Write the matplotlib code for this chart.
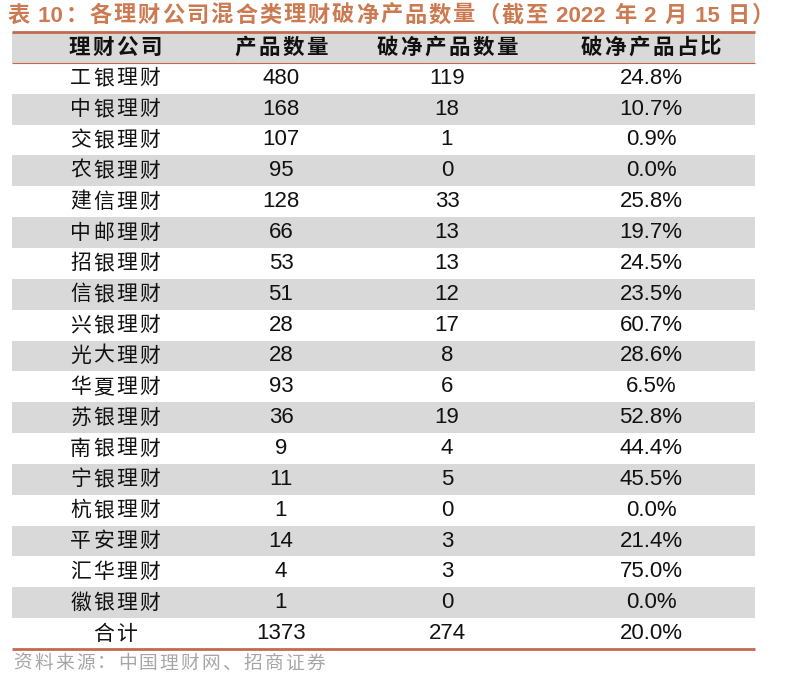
import re
import matplotlib.pyplot as plt
from matplotlib.patches import Rectangle

# DATA
companies = ['工银理财', '中银理财', '交银理财', '农银理财', '建信理财', '中邮理财',
             '招银理财', '信银理财', '兴银理财', '光大理财', '华夏理财', '苏银理财',
             '南银理财', '宁银理财', '杭银理财', '平安理财', '汇华理财', '徽银理财', '合计']
products = [480, 168, 107, 95, 128, 66, 53, 51, 28, 28, 93, 36, 9, 11, 1, 14, 4, 1, 1373]
below_nav = [119, 18, 1, 0, 33, 13, 13, 12, 17, 8, 6, 19, 4, 5, 0, 3, 3, 0, 274]
ratio = [24.8, 10.7, 0.9, 0.0, 25.8, 19.7, 24.5, 23.5, 60.7, 28.6, 6.5, 52.8,
         44.4, 45.5, 0.0, 21.4, 75.0, 0.0, 20.0]
headers = ['理财公司', '产品数量', '破净产品数量', '破净产品占比']

title = '表 10：各理财公司混合类理财破净产品数量（截至 2022 年 2 月 15 日）'
source = '资料来源：中国理财网、招商证券'

# LAYOUT (pixels)
W, H = 789, 677
x0, x1 = 12, 755
top, bottom = 32, 649
n_rows = len(companies) + 1
row_h = (bottom - top) / n_rows
col_x = [115, 281, 447, 651]

red = '#C4694F'
gray = '#D9D9D9'
cjk = ['Noto Sans CJK SC']
mixed = ['Liberation Sans', 'Noto Sans CJK SC']

fig = plt.figure(figsize=(W / 100, H / 100), dpi=100)
ax = fig.add_axes([0, 0, 1, 1])
ax.set_xlim(0, W)
ax.set_ylim(H, 0)
ax.axis('off')
renderer = fig.canvas.get_renderer()


def tracked(x, y, s, track, ha='left', **kw):
    # letter spacing between CJK chars; ASCII runs stay together
    tokens = re.findall(r'[ -~]+|.', s)
    arts, widths = [], []
    for tk in tokens:
        t = ax.text(0, y, tk, ha='left', va='center', **kw)
        arts.append(t)
        widths.append(t.get_window_extent(renderer).width)
    total = sum(widths) + track * (len(tokens) - 1)
    cx = x - total / 2 if ha == 'center' else x
    for t, w in zip(arts, widths):
        t.set_x(cx)
        cx += w + track


# stripes: header + every second data row
for i in range(n_rows):
    if i % 2 == 0 and i < n_rows - 1:
        ax.add_patch(Rectangle((x0, top + i * row_h), x1 - x0, row_h,
                               facecolor=gray, edgecolor='none', zorder=0))

# lines
ax.plot([x0, x1], [top, top], color=red, lw=2.0, solid_capstyle='butt')
ax.plot([x0, x1], [top + row_h, top + row_h], color=red, lw=0.8, solid_capstyle='butt')
ax.plot([x0, x1], [bottom, bottom], color=red, lw=2.0, solid_capstyle='butt')

# header
yc = top + row_h / 2
for x, h in zip(col_x, headers):
    tracked(x, yc, h, 2.5, ha='center', fontsize=15.5, fontweight='bold',
            family=cjk, color='#111111')

# body
for i, (c, p, b, r) in enumerate(zip(companies, products, below_nav, ratio)):
    yc = top + (i + 1.5) * row_h
    tracked(col_x[0], yc, c, 2.0, ha='center', fontsize=15,
            family=cjk, color='#111111')
    ax.text(col_x[1], yc, str(p), ha='center', va='center', fontsize=16,
            family=mixed, color='#111111')
    ax.text(col_x[2], yc, str(b), ha='center', va='center', fontsize=16,
            family=mixed, color='#111111')
    ax.text(col_x[3], yc, f'{r:.1f}%', ha='center', va='center', fontsize=16,
            family=mixed, color='#111111')

# title and source
tracked(8, 16, title, 2.0, fontsize=16, fontweight='bold',
        family=mixed, color='#CC7A52')
tracked(13, 663, source, 2.2, fontsize=13.5, family=cjk, color='#A6A6A6')

fig.savefig('out.png', dpi=100)
